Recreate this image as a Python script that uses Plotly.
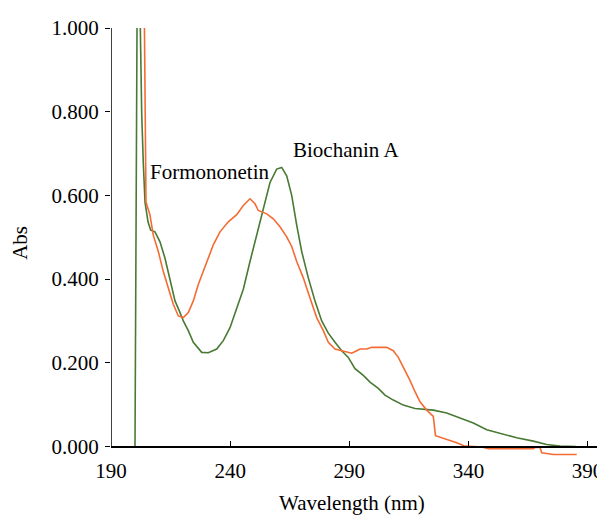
import plotly.graph_objects as go

# Biochanin A (green)
bio_wl = [200.07, 201.0, 201.6, 202.0, 202.46, 202.88, 203.55, 204.27, 205.53, 206.66, 208.46, 210.56,
          212.66, 214.05, 215.47, 216.86, 218.66, 220.34, 222.44, 224.54, 228.06, 230.83, 234.36, 237.12,
          239.94, 242.75, 245.52, 248.33, 251.14, 253.91, 256.72, 259.53, 261.63, 263.73, 265.83, 267.93,
          270.02, 272.80, 275.61, 278.42, 281.19, 284.00, 286.81, 289.58, 292.39, 295.87, 298.69, 302.17,
          304.98, 308.46, 312.66, 317.57, 321.05, 325.25, 330.87, 336.45, 342.04, 347.66, 353.24, 360.25,
          367.21, 372.83, 378.42, 385.0]
bio_abs = [0.0, 1.10, 1.25, 1.08, 0.939, 0.797, 0.678, 0.584, 0.537, 0.517, 0.513, 0.489,
           0.450, 0.418, 0.379, 0.348, 0.324, 0.300, 0.277, 0.249, 0.225, 0.224, 0.233, 0.253,
           0.284, 0.330, 0.376, 0.442, 0.505, 0.568, 0.631, 0.663, 0.667, 0.647, 0.600, 0.529,
           0.466, 0.403, 0.348, 0.300, 0.271, 0.249, 0.229, 0.213, 0.186, 0.170, 0.154, 0.139,
           0.123, 0.111, 0.099, 0.091, 0.090, 0.087, 0.080, 0.068, 0.056, 0.040, 0.032, 0.021,
           0.013, 0.005, 0.001, 0.000]

# Formononetin (orange)
for_wl = [203.8, 204.0, 204.27, 204.69, 206.37, 207.75, 209.85, 211.95, 214.05, 216.14, 218.24, 220.34,
          222.44, 224.54, 226.63, 228.73, 230.16, 232.93, 235.74, 239.22, 242.75, 245.52, 248.33, 250.43,
          251.81, 255.34, 258.11, 260.92, 263.73, 265.83, 267.93, 270.70, 273.51, 276.32, 279.09, 281.19,
          284.00, 287.48, 291.01, 293.10, 294.49, 297.30, 299.40, 305.69, 308.46, 310.56, 312.66, 315.47,
          317.57, 319.67, 322.48, 325.25, 326.17, 327.35, 330.87, 335.07, 338.55, 345.56, 348.33, 367.21,
          367.93, 370.03, 370.74, 375.61, 385.43]
for_abs = [1.15, 1.0, 0.719, 0.584, 0.553, 0.505, 0.466, 0.418, 0.379, 0.340, 0.312, 0.308,
           0.320, 0.348, 0.387, 0.418, 0.442, 0.482, 0.513, 0.537, 0.554, 0.576, 0.592, 0.580,
           0.564, 0.556, 0.544, 0.525, 0.501, 0.478, 0.442, 0.403, 0.355, 0.308, 0.277, 0.249,
           0.233, 0.228, 0.223, 0.229, 0.233, 0.233, 0.237, 0.237, 0.229, 0.213, 0.190, 0.158,
           0.131, 0.107, 0.087, 0.072, 0.026, 0.024, 0.017, 0.009, 0.001, -0.001, -0.005, -0.005,
           -0.002, -0.002, -0.015, -0.019, -0.019]

x_ticks = [190, 240, 290, 340, 390]
y_ticks = [0.0, 0.2, 0.4, 0.6, 0.8, 1.0]
y_tick_text = ["0.000", "0.200", "0.400", "0.600", "0.800", "1.000"]

GREEN = "#487a34"
ORANGE = "#f46c34"
FONT = "Liberation Serif"
FS = 21

Y_MIN = -0.025
fig = go.Figure()
fig.add_trace(go.Scatter(x=bio_wl, y=bio_abs, mode="lines", line=dict(color=GREEN, width=1.6),
                         name="Biochanin A", showlegend=False))
fig.add_trace(go.Scatter(x=for_wl, y=for_abs, mode="lines", line=dict(color=ORANGE, width=1.6),
                         name="Formononetin", showlegend=False))

fig.update_layout(
    width=605, height=515,
    margin=dict(l=103, r=8, t=15, b=66.4),
    plot_bgcolor="white", paper_bgcolor="white",
    font=dict(family=FONT, size=FS, color="black"),
    xaxis=dict(range=[190, 397.3], tickvals=x_ticks, ticks="inside", ticklen=5, tickcolor="black",
               showline=True, linecolor="black", linewidth=1.5, showgrid=False, zeroline=False,
               anchor="free", position=(0 - Y_MIN) / (1.0 - Y_MIN), ticklabelstandoff=6,
               tickfont=dict(family=FONT, size=FS)),
    yaxis=dict(range=[Y_MIN, 1.0], tickvals=y_ticks, ticktext=y_tick_text, ticks="outside", ticklen=5,
               tickcolor="black", showline=False, showgrid=False, zeroline=False, ticklabelstandoff=2,
               tickfont=dict(family=FONT, size=FS)),
    shapes=[dict(type="line", xref="x", yref="y", x0=190, x1=190, y0=0, y1=1.0,
                 line=dict(color="black", width=1.5))],
    annotations=[
        dict(text="Formononetin", x=205.5, y=0.655, xref="x", yref="y", xanchor="left",
             yanchor="middle", showarrow=False, font=dict(family=FONT, size=FS)),
        dict(text="Biochanin A", x=265.5, y=0.709, xref="x", yref="y", xanchor="left",
             yanchor="middle", showarrow=False, font=dict(family=FONT, size=FS)),
        dict(text="Wavelength (nm)", x=291.1, y=-0.108, xref="x", yref="paper", xanchor="center",
             yanchor="middle", showarrow=False, font=dict(family=FONT, size=FS)),
        dict(text="Abs", x=-0.184, y=0.4995, xref="paper", yref="paper", xanchor="center",
             yanchor="middle", textangle=-90, showarrow=False, font=dict(family=FONT, size=FS)),
    ],
)

fig.write_html("out.html")
